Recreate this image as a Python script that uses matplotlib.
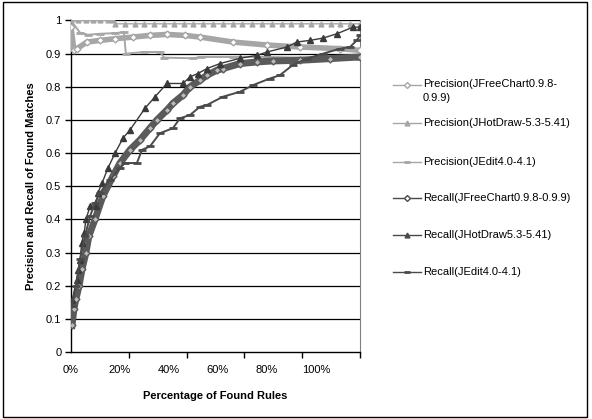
import matplotlib
matplotlib.use('Agg')
import matplotlib.pyplot as plt
from matplotlib.lines import Line2D
from matplotlib.patches import Rectangle

plt.rcParams['font.family'] = ['Liberation Sans', 'DejaVu Sans']

# percentage of found rules (x) and precision / recall values (y)
prec_jfree_x = [0, 1.2, 2.4, 6.5, 11.8, 18, 25.3, 32.2, 39.2, 46.5, 52.7, 66.1, 80, 93.5, 109.8, 118]
prec_jfree_y = [0.98, 0.91, 0.915, 0.935, 0.94, 0.945, 0.95, 0.955, 0.958, 0.955, 0.95, 0.935, 0.926, 0.92, 0.915, 0.91]

prec_jhot_x = [0, 3, 6, 9, 12, 15, 17.1, 18, 22, 26, 30, 34, 38, 42, 46, 50, 54, 58, 62, 66, 70,
               74, 78, 82, 86, 90, 94, 98, 102, 106, 110, 114, 118]
prec_jhot_y = [1.0, 1.0, 1.0, 1.0, 1.0, 1.0, 1.0, 0.99, 0.99, 0.99, 0.99, 0.99, 0.99, 0.99, 0.99, 0.99,
               0.99, 0.99, 0.99, 0.99, 0.99, 0.99, 0.99, 0.99, 0.99, 0.99, 0.99, 0.99, 0.99, 0.99,
               0.99, 0.99, 0.99]

prec_jedit_x = [0, 3.7, 7, 12, 18, 21.6, 22.4, 30, 36.3, 38, 50, 53, 66, 80, 95, 110, 118]
prec_jedit_y = [1.0, 0.963, 0.957, 0.96, 0.962, 0.965, 0.90, 0.905, 0.905, 0.888, 0.886, 0.89,
                0.89, 0.89, 0.888, 0.886, 0.885]

rec_jfree_x = [0.4, 1.2, 2, 3.3, 4.5, 6.1, 7.3, 9.8, 13, 17.1, 20, 24.1, 28.2, 32.2, 35.1, 39.2,
               41.6, 45.7, 48.6, 52.7, 55.5, 59.6, 62, 69, 76, 82.4, 93.5, 105.7, 118]
rec_jfree_y = [0.08, 0.13, 0.16, 0.2, 0.25, 0.3, 0.35, 0.40, 0.47, 0.53, 0.57, 0.61, 0.64, 0.675,
               0.70, 0.73, 0.75, 0.775, 0.80, 0.82, 0.835, 0.85, 0.855, 0.87, 0.875, 0.878, 0.88,
               0.885, 0.89]

rec_jhot_x = [0.5, 2.3, 3, 3.7, 4.4, 5.4, 6.1, 7.8, 10.2, 11, 12.7, 15.1, 18, 21.2, 24.1, 30.2, 34.3,
              39.2, 45.7, 48.6, 51.8, 55.5, 60.8, 69, 76, 80, 88.2, 92.2, 97.6, 102.9, 108.6, 115.1, 118]
rec_jhot_y = [0.157, 0.217, 0.247, 0.277, 0.33, 0.36, 0.40, 0.44, 0.44, 0.48, 0.51, 0.555, 0.60,
              0.645, 0.67, 0.735, 0.77, 0.81, 0.81, 0.83, 0.84, 0.855, 0.87, 0.886, 0.895, 0.905,
              0.92, 0.935, 0.94, 0.947, 0.96, 0.98, 0.98]

rec_jedit_x = [0.4, 2, 3.7, 5.7, 7.8, 9.8, 11.8, 15.9, 20, 22, 26.9, 29, 32.2, 36.3, 41.6, 44.5, 48.6,
               52.7, 55.5, 62, 69, 74.3, 81.2, 85.3, 90.6, 96.3, 102.9, 109.8, 113.9, 116.7, 118]
rec_jedit_y = [0.14, 0.2, 0.28, 0.35, 0.41, 0.45, 0.48, 0.52, 0.555, 0.57, 0.57, 0.61, 0.62, 0.66,
               0.675, 0.705, 0.715, 0.74, 0.745, 0.77, 0.785, 0.805, 0.825, 0.835, 0.866, 0.885,
               0.90, 0.915, 0.92, 0.94, 0.955]

x_labels = ['0%', '20%', '40%', '60%', '80%', '100%']
x_label_pos = [0, 20, 40, 60, 80, 100]
y_labels = ['0', '0.1', '0.2', '0.3', '0.4', '0.5', '0.6', '0.7', '0.8', '0.9', '1']

series_names = ['Precision(JFreeChart0.9.8-\n0.9.9)', 'Precision(JHotDraw-5.3-5.41)',
                'Precision(JEdit4.0-4.1)', 'Recall(JFreeChart0.9.8-0.9.9)',
                'Recall(JHotDraw5.3-5.41)', 'Recall(JEdit4.0-4.1)']

light = '#a6a6a6'
dark = '#4a4a4a'

fig = plt.figure(figsize=(5.92, 4.19), dpi=100)
ax = fig.add_axes([71 / 592, 1 - 352 / 419, 289 / 592, 331.5 / 419])

# gridlines
for v in range(1, 11):
    ax.axhline(v / 10, color='black', lw=0.9, zorder=1)

ax.plot(prec_jfree_x, prec_jfree_y, color=light, lw=4, marker='D', ms=3.5, mfc='white',
        mec=light, zorder=3)
ax.plot(prec_jhot_x, prec_jhot_y, color=light, lw=1, marker='^', ms=3.5, zorder=3)
ax.plot(prec_jedit_x, prec_jedit_y, color=light, lw=1.4, marker='_', ms=6, mew=2, zorder=3)
ax.plot(rec_jfree_x, rec_jfree_y, color='#5a5a5a', lw=5, marker='D', ms=3.5, mfc='#bbbbbb',
        mec='#5a5a5a', zorder=4)
ax.plot(rec_jhot_x, rec_jhot_y, color='#3a3a3a', lw=1, marker='^', ms=4.5, zorder=5)
ax.plot(rec_jedit_x, rec_jedit_y, color=dark, lw=1.4, marker='_', ms=6, mew=2, zorder=5)

ax.set_xlim(0, 118)
ax.set_ylim(0, 1)
ax.set_xticks(x_label_pos)
ax.set_xticklabels(x_labels)
ax.set_xticks([0, 23.6, 47.2, 70.8, 94.4, 118], minor=True)
ax.tick_params(axis='x', which='major', length=0, pad=9, labelsize=8)
ax.tick_params(axis='x', which='minor', length=4, width=1, direction='out', color='black')
ax.set_yticks([i / 10 for i in range(11)])
ax.set_yticklabels(y_labels)
ax.tick_params(axis='y', length=4, width=1, direction='out', labelsize=8, pad=3)

ax.spines['top'].set_visible(False)
ax.spines['right'].set_color('#808080')
ax.spines['left'].set_linewidth(1)
ax.spines['bottom'].set_linewidth(1)

ax.set_xlabel('Percentage of Found Rules', fontsize=8, fontweight='bold', labelpad=12)
ax.set_ylabel('Precision and Recall of Found Matches', fontsize=8, fontweight='bold', labelpad=7)

# legend drawn by hand to keep the original row spacing
leg_markers = [
    dict(color=light, marker='D', ms=3, mfc='white', mec=light),
    dict(color=light, marker='^', ms=3.5),
    dict(color=light, marker='_', ms=5, mew=2),
    dict(color=dark, marker='D', ms=3, mfc='white', mec=dark),
    dict(color=dark, marker='^', ms=3.5),
    dict(color=dark, marker='_', ms=5, mew=2),
]
row_y = [85, 123, 162, 198, 235, 272]
for name, st, yy in zip(series_names, leg_markers, row_y):
    yf = 1 - yy / 419
    fig.add_artist(Line2D([393 / 592, 421 / 592], [yf, yf], lw=1, color=st['color'],
                          transform=fig.transFigure))
    fig.add_artist(Line2D([407 / 592], [yf], lw=0, transform=fig.transFigure, **st))
    if '\n' in name:
        fig.text(423 / 592, 1 - (yy - 6) / 419, name, fontsize=8, va='top', ha='left',
                 linespacing=1.45)
    else:
        fig.text(423 / 592, yf, name, fontsize=8, va='center', ha='left')

fig.add_artist(Rectangle((3 / 592, 2 / 419), 584 / 592, 415 / 419, fill=False, ec='black',
                         lw=1, transform=fig.transFigure))

fig.savefig('out.png', dpi=100)
